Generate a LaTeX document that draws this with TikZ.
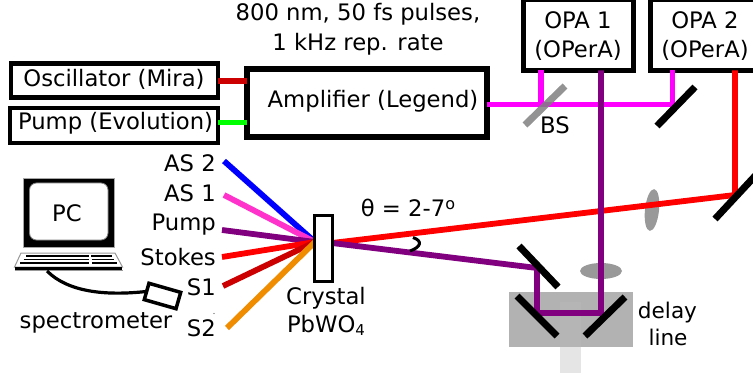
\documentclass[tikz,border=0pt]{standalone}
\usepackage{fontspec}
\setmainfont{DejaVu Sans}
\definecolor{dkred}{HTML}{CC0000}
\definecolor{bgreen}{HTML}{00FF00}
\definecolor{mag}{HTML}{FF00FF}
\definecolor{pinkb}{HTML}{FF33CC}
\definecolor{purp}{HTML}{800080}
\definecolor{oran}{HTML}{F08C00}
\definecolor{lensg}{HTML}{999999}
\tikzset{
  txt/.style={inner sep=0pt,font=\fontsize{22.7}{27}\selectfont,text=black},
  boxn/.style={draw=black,fill=white,line width=4.5pt,inner sep=0pt,outer sep=0pt,minimum height=#1},
  beam/.style={line width=5.8pt},
  mirror/.style={line width=7pt,black},
}
\begin{document}
\begin{tikzpicture}[x=1pt,y=-1pt]
\useasboundingbox (0,0) rectangle (753,377);
% delay stage
\fill[black!10] (560,292) rectangle (581,373);
\fill[black!30] (509,292) rectangle (633,347);
\fill[black!29] (560,302) rectangle (581,347);
% key points
\coordinate (cross) at (315,242);
\coordinate (cexit) at (332,243);
\coordinate (mr) at (735,195);
\coordinate (mp1) at (537,268);
\coordinate (mp2) at (537,313);
\coordinate (mp3) at (601,313);
% boxes
\node[boxn=34pt,minimum width=207pt,anchor=north west] (osc) at (11,63.5) {};
\node[boxn=35pt,minimum width=208pt,anchor=north west] (pump) at (10,108) {};
\node[boxn=68pt,line width=5.5pt,minimum width=240pt,anchor=north west] (amp) at (247,69) {};
\node[boxn=71pt,minimum width=110pt,anchor=north west] (opa1) at (523.5,-0.5) {};
\node[boxn=71pt,minimum width=110pt,anchor=north west] (opa2) at (650.5,-0.5) {};
\coordinate (bs) at (541,104.5);
\coordinate (m2) at (672.5,104.5);
% lenses
\fill[lensg,rotate around={-6:(652,210)}] (652,210) ellipse (7 and 21);
\fill[lensg] (601,271) ellipse (21 and 8);
% beams to amp
\draw[beam,dkred] (osc.east |- 0,81) -- (amp.west |- 0,81);
\draw[beam,bgreen] (pump.east |- 0,122.5) -- (amp.west |- 0,122.5);
% magenta
\draw[beam,mag] (amp.east |- bs) -- (m2) -- (m2 |- opa2.south);
\draw[beam,mag] (bs) -- (bs |- opa1.south);
% red
\draw[beam,red,line join=miter] (cexit) -- (mr) -- (mr |- opa2.south);
% purple
\draw[beam,purp] (cexit) -- (mp1) -- (mp2) -- (mp3) -- (mp3 |- opa1.south);
% BS & mirrors
\draw[line width=7pt,black!50,opacity=.85] (525,125) -- (565,86);
\draw[mirror] (657,126) -- (695,87);
\draw[mirror] (715,219) -- (756,175);
\draw[mirror] (519,246) -- (558,287);
\draw[mirror] (517,296) -- (557,336);
\draw[mirror] (585,336) -- (625,297);
% fan
\coordinate (as2) at (224,161);
\coordinate (as1) at (224,195);
\coordinate (pu) at (222,230);
\coordinate (st) at (222,257);
\coordinate (s1) at (223,286);
\coordinate (s2) at (227,328);
\draw[beam,blue] (as2) -- (cross);
\draw[beam,pinkb] (as1) -- (cross);
\draw[beam,purp] (pu) -- (cross);
\draw[beam,red] (st) -- (cross);
\draw[beam,dkred] (s1) -- (cross);
\draw[beam,oran] (s2) -- (cross);
% crystal
\node[draw=black,fill=white,line width=3pt,inner sep=0pt,outer sep=0pt,minimum width=18pt,minimum height=66pt] (crystal) at (323.5,248.5) {};
% angle arc
\draw[line width=3pt] (413,237.5) .. controls (423,241) and (421,247) .. (410,251);
% PC
\draw[fill=black,draw=black!35,line width=1pt] (23,179) rectangle (114,247);
\draw[fill=white,draw=black!50,line width=.8pt,rounded corners=7pt] (29.5,183) rectangle (108,240);
\node[txt] (pc) at (67,213) {PC};
\draw[fill=white,draw=black!40,line width=1pt] (14.5,267) -- (21,253) -- (115,253) -- (122.5,267) -- cycle;
\fill[black] (15,267) rectangle (122,270);
\draw[black!40,line width=.8pt] (14.5,270.5) -- (122.5,270.5);
\foreach \yy/\xa/\xb/\xc/\xd in {256/26/89/91/112,259.5/23.5/89/91.5/114,263/20/89/92/117}
  \draw[line width=1.8pt] (\xa,\yy) -- (\xb,\yy) (\xc,\yy) -- (\xd,\yy);
\node[draw=black,fill=white,line width=3.5pt,rotate=-16,minimum width=33pt,minimum height=17pt,inner sep=0pt,outer sep=0pt] (spec) at (162.5,296) {};
\coordinate (kb) at (47,271);
\draw[line width=3.2pt] (kb) .. controls (68,292) and (105,296) .. (spec.west);
% text
\node[txt] at (114,79) {Oscillator (Mira)};
\node[txt] at (115.5,123) {Pump (Evolution)};
\node[txt] at (373,101) {Amplifier (Legend)};
\node[txt,align=center] at (358,29) {800 nm, 50 fs pulses,\\[3pt]1 kHz rep. rate};
\node[txt,align=center] at (578,36) {OPA 1\\[2pt](OPerA)};
\node[txt,align=center] at (705,36) {OPA 2\\[2pt](OPerA)};
\node[txt] at (555,125) {BS};
\node[txt,anchor=east] at (216,163) {AS 2};
\node[txt,anchor=east] at (216,193) {AS 1};
\node[txt,anchor=east] at (216,225) {Pump};
\node[txt,anchor=east] at (216,257) {Stokes};
\node[txt,anchor=east] at (216,287) {S1};
\node[txt,anchor=east] at (216,328) {S2};
\fill[black!70] (214,313.5) circle (.6);
\node[txt] at (96,323) {spectrometer};
\node[txt] at (326,298) {Crystal};
\node[txt] at (326,325) {PbWO\raisebox{-3pt}{\fontsize{15}{15}\selectfont 4}};
\node[txt,anchor=base,font=\fontsize{21.6}{26}\selectfont] at (667.5,318) {delay};
\node[txt,anchor=base,font=\fontsize{21.6}{26}\selectfont] at (668,345) {line};
\node[txt,anchor=base] at (408,217) {θ = 2-7\raisebox{7pt}{\fontsize{16}{16}\selectfont o}};
\end{tikzpicture}
\end{document}
